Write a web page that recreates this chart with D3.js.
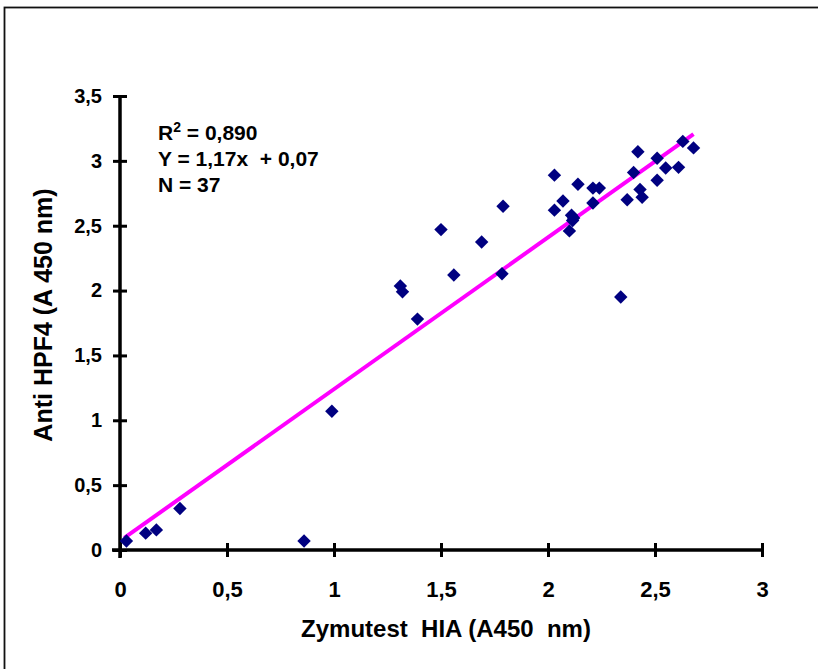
<!DOCTYPE html>
<html>
<head>
<meta charset="utf-8">
<script src="https://cdn.jsdelivr.net/npm/d3@7"></script>
<style>
  body { margin: 0; background: #fff; }
  svg text { font-family: "Liberation Sans", Arial, sans-serif; font-weight: bold; fill: #000; white-space: pre; }
</style>
</head>
<body>
<div id="chart"></div>
<script>
  // data
  var xValues = [0.03, 0.12, 0.17, 0.28, 0.86, 0.99, 1.31, 1.32, 1.39, 1.50, 1.56, 1.69, 1.79, 1.785,
                 2.03, 2.07, 2.03, 2.14, 2.21, 2.24, 2.21, 2.11, 2.115, 2.12, 2.10, 2.42, 2.40, 2.37,
                 2.43, 2.44, 2.51, 2.55, 2.51, 2.61, 2.63, 2.68, 2.34]
  var yValues = [0.07, 0.13, 0.155, 0.32, 0.07, 1.07, 2.035, 1.99, 1.78, 2.47, 2.12, 2.375, 2.65, 2.13,
                 2.89, 2.69, 2.62, 2.82, 2.79, 2.79, 2.675, 2.58, 2.54, 2.56, 2.46, 3.07, 2.91, 2.70,
                 2.78, 2.72, 3.02, 2.945, 2.85, 2.95, 3.15, 3.10, 1.95]
  var fitSlope = 1.17
    , fitIntercept = 0.07
    , fitRange = [0.02, 2.68]
  var xTicks = [0, 0.5, 1, 1.5, 2, 2.5, 3]
  var yTicks = [0, 0.5, 1, 1.5, 2, 2.5, 3, 3.5]
  var notes = ["R|2| = 0,890", "Y = 1,17x  + 0,07", "N = 37"]

  var width = 818
    , height = 669
    , fmt = function (d) { return String(d).replace(".", ",") }

  var svg = d3.select("#chart").append("svg")
    .attr("width", width)
    .attr("height", height)

  // outer frame (runs off the right and bottom edges)
  svg.append("rect")
    .attr("x", 4.5).attr("y", 7.5)
    .attr("width", 900).attr("height", 900)
    .attr("fill", "none")
    .attr("stroke", "#111")
    .attr("stroke-width", 1.8)

  var x = d3.scaleLinear().domain([0, 3]).range([120, 762])
  var y = d3.scaleLinear().domain([0, 3.5]).range([550, 96])

  // x axis
  var xAxis = svg.append("g")
    .attr("transform", "translate(0," + y(0) + ")")
    .call(d3.axisBottom(x).tickValues(xTicks).tickFormat(fmt).tickSizeInner(7).tickSizeOuter(0).tickPadding(24))
  xAxis.select(".domain").attr("stroke", "#000").attr("stroke-width", 3.5)
    .attr("d", "M" + (x(0) - 8) + ",0H" + x(3))
  xAxis.selectAll(".tick line").attr("stroke", "#000").attr("stroke-width", 3).attr("y1", -7)
  xAxis.selectAll(".tick text").attr("font-size", 22).attr("font-family", null)

  // y axis
  var yAxis = svg.append("g")
    .attr("transform", "translate(" + x(0) + ",0)")
    .call(d3.axisLeft(y).tickValues(yTicks).tickFormat(fmt).tickSizeInner(7).tickSizeOuter(0).tickPadding(11))
  yAxis.select(".domain").attr("stroke", "#000").attr("stroke-width", 3.5)
    .attr("d", "M0," + (y(0) + 8) + "V" + y(3.5))
  yAxis.selectAll(".tick line").attr("stroke", "#000").attr("stroke-width", 3).attr("x2", 7).attr("x1", -7)
  yAxis.selectAll(".tick text").attr("font-size", 20).attr("font-family", null)
  svg.selectAll(".tick text").attr("fill", "#000")

  // axis titles
  svg.append("text")
    .attr("x", 446).attr("y", 637)
    .attr("text-anchor", "middle")
    .attr("font-size", 24)
    .text("Zymutest  HIA (A450  nm)")

  svg.append("text")
    .attr("transform", "translate(52,315) rotate(-90)")
    .attr("text-anchor", "middle")
    .attr("font-size", 25)
    .text("Anti HPF4 (A 450 nm)")

  // regression line
  svg.append("line")
    .attr("x1", x(fitRange[0])).attr("y1", y(fitSlope * fitRange[0] + fitIntercept))
    .attr("x2", x(fitRange[1])).attr("y2", y(fitSlope * fitRange[1] + fitIntercept))
    .attr("stroke", "#ff00ff")
    .attr("stroke-width", 4)

  // points
  var points = xValues.map(function (d, i) { return { x: d, y: yValues[i] } })
  svg.append("g").selectAll("path")
    .data(points)
    .enter().append("path")
      .attr("d", d3.symbol().type(d3.symbolDiamond2).size(115))
      .attr("transform", function (d) { return "translate(" + x(d.x) + "," + y(d.y) + ")" })
      .attr("fill", "#000080")

  // annotation
  var note = svg.append("g").attr("font-size", 21)
  notes.forEach(function (s, i) {
    var t = note.append("text").attr("x", 158).attr("y", 140 + i * 26)
    var parts = s.split("|")
    t.append("tspan").text(parts[0])
    if (parts.length > 1) {
      t.append("tspan").attr("dy", -8).attr("font-size", 14).text(parts[1])
      t.append("tspan").attr("dy", 8).text(parts[2])
    }
  })
</script>
</body>
</html>
